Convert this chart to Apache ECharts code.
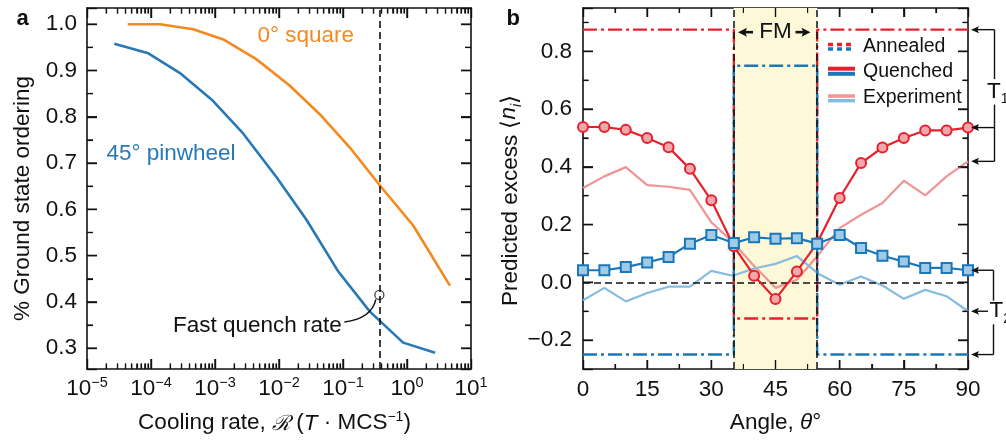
<!DOCTYPE html>
<html>
<head>
<meta charset="utf-8">
<script src="https://cdn.jsdelivr.net/npm/echarts@6/dist/echarts.min.js"></script>
<style>
  html, body { margin: 0; padding: 0; background: #fff; }
  #wrap { position: relative; width: 1006px; height: 441px; }
  #chart, #notes { position: absolute; left: 0; top: 0; width: 1006px; height: 441px; }
  #notes { pointer-events: none; }
</style>
</head>
<body>
<div id="wrap">
  <div id="chart"></div>
  <div id="notes"></div>
</div>
<script>
// ---------- panel a: ground-state ordering vs cooling rate ----------
const squareRate    = [4.33e-5, 1.38e-4, 4.57e-4, 1.35e-3, 4.47e-3, 1.48e-2, 4.37e-2, 0.129, 0.38, 1.25, 4.68];
const squareOrder   = [1.000, 1.000, 0.989, 0.967, 0.924, 0.867, 0.805, 0.733, 0.651, 0.565, 0.435];
const pinwheelRate  = [2.67e-5, 9.1e-5, 2.8e-4, 8.9e-4, 2.75e-3, 9.1e-3, 2.7e-2, 8.5e-2, 0.263, 0.87, 2.75];
const pinwheelOrder = [0.958, 0.937, 0.895, 0.837, 0.764, 0.670, 0.577, 0.465, 0.379, 0.312, 0.290];
const fastQuenchRate = 0.37;
const fastQuenchMark = 0.415;
const rateRange  = [1e-5, 10];
const orderRange = [0.255, 1.035];

// ---------- panel b: predicted excess vs angle ----------
const angles       = [0, 5, 10, 15, 20, 25, 30, 35.26, 40, 45, 50, 54.74, 60, 65, 70, 75, 80, 85, 90];
const quenchedRed  = [0.538, 0.538, 0.528, 0.500, 0.468, 0.393, 0.284, 0.125, 0.023, -0.058, 0.038, 0.136, 0.292, 0.413, 0.467, 0.500, 0.526, 0.526, 0.536];
const quenchedBlue = [0.042, 0.042, 0.053, 0.069, 0.088, 0.134, 0.164, 0.136, 0.156, 0.151, 0.153, 0.134, 0.164, 0.119, 0.092, 0.072, 0.050, 0.050, 0.042];
const expAngles    = [0, 5, 10, 15, 20, 25, 30, 35, 40, 45, 50, 55, 60, 65, 70, 75, 80, 85, 90];
const expRed       = [0.327, 0.367, 0.399, 0.337, 0.331, 0.320, 0.208, 0.140, 0.057, -0.019, 0.009, 0.095, 0.188, 0.234, 0.275, 0.352, 0.301, 0.367, 0.419];
const expBlue      = [-0.062, -0.019, -0.066, -0.037, -0.015, -0.015, 0.040, 0.023, 0.048, 0.064, 0.091, 0.030, -0.008, 0.020, -0.011, -0.057, -0.026, -0.048, -0.100];
const fmEdges      = [35.26, 54.74];
const annealedRed  = [0.875, -0.125];  // outside / inside the FM window
const annealedBlue = [-0.25, 0.75];
const angleRange   = [0, 90];
const angleStep    = 15;
const excessRange  = [-0.3, 0.95];

// ---------- styling ----------
const FONT = "'Liberation Sans', Arial, Helvetica, sans-serif";
const INK = '#111';
const FS = 22.5;
const C = {
  orange: '#f5891f', pin: '#2679b6',
  red: '#e5222b', redFill: '#f4a6ad', redExp: '#f09495',
  blue: '#1a77ba', blueFill: '#9fcbe7', blueExp: '#86bce0',
  band: '#fdf8d8'
};

const minus = v => (v < 0 ? '\u2212' : '') + Math.abs(v).toFixed(1);

// one frame side: line + inside major/minor ticks, labels only where asked
function ax(o) {
  const a = {
    gridIndex: o.grid, type: o.type || 'value', position: o.pos,
    min: o.range[0], max: o.range[1],
    axisLine: { show: true, onZero: false, lineStyle: { color: INK, width: 1.6 } },
    axisTick: { show: true, inside: true, length: o.len, lineStyle: { color: INK, width: 1.4 } },
    minorTick: { show: true, splitNumber: o.minorSplit, length: o.minorLen, lineStyle: { color: INK, width: 1.2 } },
    axisLabel: { show: false },
    splitLine: { show: false },
    minorSplitLine: { show: false }
  };
  if (o.type === 'log') a.logBase = 10;
  if (o.interval) a.interval = o.interval;
  if (o.splitNumber) a.splitNumber = o.splitNumber;
  if (o.labels) {
    a.axisLabel = { show: true, formatter: o.fmt, margin: o.margin, showMinLabel: o.edgeLabels, showMaxLabel: o.edgeLabels,
      color: INK, fontFamily: FONT, fontSize: FS };
    if (o.rich) a.axisLabel.rich = o.rich;
  }
  if (o.name) {
    Object.assign(a, { name: o.name, nameLocation: 'middle', nameGap: o.nameGap, nameRotate: o.nameRotate || 0,
      nameTextStyle: Object.assign({ color: INK, fontFamily: FONT, fontSize: FS }, o.nameStyle || {}) });
  }
  return a;
}

const supRich = {
  b: { fontFamily: FONT, fontSize: FS, color: INK, lineHeight: 25, verticalAlign: 'bottom' },
  s: { fontFamily: FONT, fontSize: 14.5, color: INK, lineHeight: 14, verticalAlign: 'top' }
};
const decadeFmt = v => {
  const e = Math.round(Math.log10(v));
  return '{b|10}{s|' + (e < 0 ? '\u2212' : '') + Math.abs(e) + '}';
};

const xA = { grid: 0, type: 'log', range: rateRange, len: 10, minorSplit: 9, minorLen: 5.5 };
const yA = { grid: 0, range: orderRange, splitNumber: 8, len: 10, minorSplit: 2, minorLen: 6 };
const xB = { grid: 1, range: angleRange, interval: angleStep, len: 9, minorSplit: 2, minorLen: 5 };
const yB = { grid: 1, range: excessRange, splitNumber: 6, len: 10, minorSplit: 2, minorLen: 5.5 };

const xAxes = [
  ax(Object.assign({}, xA, { pos: 'bottom', labels: true, fmt: decadeFmt, margin: 6, rich: supRich, edgeLabels: true,
    name: 'Cooling rate, {c|\u211B} ({i|T} \u00B7 MCS{s|\u22121})', nameGap: 41,
    nameStyle: { padding: [0, 9, 0, 0], rich: {
      c: { fontFamily: "'DejaVu Serif', serif", fontStyle: 'italic', fontSize: 21, color: INK, lineHeight: 25, verticalAlign: 'bottom' },
      i: { fontFamily: FONT, fontStyle: 'italic', fontSize: FS, color: INK, lineHeight: 25, verticalAlign: 'bottom' },
      s: { fontFamily: FONT, fontSize: 14, color: INK, lineHeight: 14, verticalAlign: 'top' }
    } } })),
  ax(Object.assign({}, xA, { pos: 'top' })),
  ax(Object.assign({}, xB, { pos: 'bottom', labels: true, fmt: v => String(v), margin: 9, edgeLabels: true,
    name: 'Angle, {i|\u03B8}\u00B0', nameGap: 42,
    nameStyle: { rich: { i: { fontFamily: FONT, fontStyle: 'italic', fontSize: FS, color: INK } } } })),
  ax(Object.assign({}, xB, { pos: 'top' }))
];

const yAxes = [
  ax(Object.assign({}, yA, { pos: 'left', labels: true, fmt: v => v.toFixed(1), margin: 10, edgeLabels: false,
    name: '% Ground state ordering', nameGap: 53, nameRotate: 90, nameStyle: { padding: [0, 20, 0, 0] } })),
  ax(Object.assign({}, yA, { pos: 'right' })),
  ax(Object.assign({}, yB, { pos: 'left', labels: true, fmt: minus, margin: 11, edgeLabels: false,
    name: 'Predicted excess \u27E8{i|n}{s|i}\u27E9', nameGap: 55, nameRotate: 90,
    nameStyle: { padding: [0, 24, 0, 0], rich: {
      i: { fontFamily: FONT, fontStyle: 'italic', fontSize: FS, color: INK, lineHeight: 26, verticalAlign: 'top' },
      s: { fontFamily: FONT, fontStyle: 'italic', fontSize: 14, color: INK, lineHeight: 26, verticalAlign: 'bottom' }
    } } })),
  ax(Object.assign({}, yB, { pos: 'right' }))
];

const zip = (xs, ys) => xs.map((x, i) => [x, ys[i]]);
const step = lv => [[angleRange[0], lv[0]], [fmEdges[0], lv[0]], [fmEdges[0], lv[1]], [fmEdges[1], lv[1]], [fmEdges[1], lv[0]], [angleRange[1], lv[0]]];
const DASHDOT = [14, 4, 3, 4];
const plain = { symbol: 'none', silent: true, emphasis: { disabled: true } };
const A = { xAxisIndex: 0, yAxisIndex: 0 };
const B = { xAxisIndex: 2, yAxisIndex: 2 };

const series = [
  // 0: square ice
  Object.assign({ type: 'line', data: zip(squareRate, squareOrder), z: 3,
    lineStyle: { color: C.orange, width: 2.6 } }, A, plain),
  // 1: pinwheel ice
  Object.assign({ type: 'line', data: zip(pinwheelRate, pinwheelOrder), z: 3,
    lineStyle: { color: C.pin, width: 2.6 } }, A, plain),
  // 2: fast-quench marker with the dashed rate line
  Object.assign({ type: 'scatter', data: [[fastQuenchRate, fastQuenchMark]], z: 4, silent: true,
    symbol: 'circle', symbolSize: 9,
    itemStyle: { color: 'rgba(255,255,255,0)', borderColor: INK, borderWidth: 1.3 },
    markLine: { silent: true, symbol: ['none', 'none'], label: { show: false },
      lineStyle: { color: INK, width: 1.6, type: [7, 4] }, data: [{ xAxis: fastQuenchRate }] } }, A),
  // 3: FM window, zero line and window edges
  Object.assign({ type: 'line', data: [], z: 1, silent: true,
    markArea: { silent: true, itemStyle: { color: C.band }, data: [[{ xAxis: fmEdges[0] }, { xAxis: fmEdges[1] }]] },
    markLine: { silent: true, symbol: ['none', 'none'], label: { show: false },
      lineStyle: { color: INK, width: 1.5, type: [7, 4] },
      data: [{ yAxis: 0 }, { xAxis: fmEdges[0] }, { xAxis: fmEdges[1] }] } }, B),
  // 4, 5: annealed predictions
  Object.assign({ type: 'line', data: step(annealedRed), z: 3,
    lineStyle: { color: C.red, width: 2.4, type: DASHDOT } }, B, plain),
  Object.assign({ type: 'line', data: step(annealedBlue), z: 3,
    lineStyle: { color: C.blue, width: 2.4, type: DASHDOT } }, B, plain),
  // 6, 7: experiment
  Object.assign({ type: 'line', data: zip(expAngles, expRed), z: 2,
    lineStyle: { color: C.redExp, width: 2.2 } }, B, plain),
  Object.assign({ type: 'line', data: zip(expAngles, expBlue), z: 2,
    lineStyle: { color: C.blueExp, width: 2.2 } }, B, plain),
  // 8, 9: quenched predictions
  Object.assign({ type: 'line', data: zip(angles, quenchedRed), z: 5, silent: true,
    symbol: 'circle', symbolSize: 10, showAllSymbol: true,
    lineStyle: { color: C.red, width: 2.2 },
    itemStyle: { color: C.redFill, borderColor: C.red, borderWidth: 2 } }, B),
  Object.assign({ type: 'line', data: zip(angles, quenchedBlue), z: 6, silent: true,
    symbol: 'rect', symbolSize: 10, showAllSymbol: true,
    lineStyle: { color: C.blue, width: 2.2 },
    itemStyle: { color: C.blueFill, borderColor: C.blue, borderWidth: 2 } }, B)
];

const chart = echarts.init(document.getElementById('chart'), null, { renderer: 'canvas' });
chart.setOption({
  animation: false,
  backgroundColor: '#fff',
  grid: [
    { left: 87, top: 8, width: 384, height: 361, outerBoundsMode: 'none' },
    { left: 583, top: 8, width: 385, height: 361, outerBoundsMode: 'none' }
  ],
  xAxis: xAxes,
  yAxis: yAxes,
  series: series
});

// ---------- annotation layer (placed through the plot's own scales) ----------
const px = (si, pt) => chart.convertToPixel({ seriesIndex: si }, pt);
const g = [];
const txt = (text, x, y, o) => g.push({ type: 'text', z: 20, silent: true,
  style: Object.assign({ text, x, y, fill: INK, fontFamily: FONT, fontSize: FS, align: 'left', verticalAlign: 'middle' }, o || {}) });
const seg = (x1, y1, x2, y2, o) => g.push({ type: 'line', z: 20, silent: true,
  shape: { x1, y1, x2, y2 }, style: Object.assign({ stroke: INK, lineWidth: 1.4 }, o || {}) });
// horizontal arrow head with its tip at (tipX, y); dir = -1 points left, +1 points right
const head = (tipX, y, dir, L, H) => g.push({ type: 'polygon', z: 20, silent: true,
  shape: { points: [[tipX, y], [tipX - dir * L, y - H], [tipX - dir * L * 0.8, y], [tipX - dir * L, y + H]] },
  style: { fill: INK } });

// inside ticks on all four sides of each frame
function frameTicks(si, xr, yr, xMaj, xMin, yMaj, yMin, len) {
  const l = px(si, [xr[0], yr[0]])[0], r = px(si, [xr[1], yr[0]])[0];
  const b = px(si, [xr[0], yr[0]])[1], t = px(si, [xr[0], yr[1]])[1];
  const xt = (vals, n, w) => vals.forEach(v => {
    const x = px(si, [v, yr[0]])[0];
    seg(x, b, x, b - n, { lineWidth: w }); seg(x, t, x, t + n, { lineWidth: w });
  });
  const yt = (vals, n, w) => vals.forEach(v => {
    const y = px(si, [xr[0], v])[1];
    seg(l, y, l + n, y, { lineWidth: w }); seg(r, y, r - n, y, { lineWidth: w });
  });
  xt(xMaj, len[0], 1.4); xt(xMin, len[1], 1.2);
  yt(yMaj, len[2], 1.4); yt(yMin, len[3], 1.2);
}
const rateMaj = [], rateMin = [];
for (let e = -5; e <= 1; e++) rateMaj.push(Math.pow(10, e));
for (let e = -5; e <= 0; e++) for (let k = 2; k <= 9; k++) rateMin.push(k * Math.pow(10, e));
const orderMaj = [], orderMin = [];
for (let i = 3; i <= 10; i++) orderMaj.push(i / 10);
for (let i = 3; i <= 9; i++) orderMin.push(i / 10 + 0.05);
const angMaj = [], angMin = [];
for (let a = 15; a < 90; a += angleStep) angMaj.push(a);
for (let a = angleStep / 2; a < 90; a += angleStep) angMin.push(a);
const excMaj = [], excMin = [];
for (let i = -1; i <= 4; i++) { excMaj.push(i * 0.2); excMin.push(i * 0.2 + 0.1); }
frameTicks(0, rateRange, orderRange, rateMaj.slice(1, -1), rateMin, orderMaj, orderMin, [10, 5.5, 10, 6]);
frameTicks(4, angleRange, excessRange, angMaj, angMin, excMaj, excMin, [9, 5, 10, 5.5]);

// panel letters
txt('a', 16.5, 19, { fontWeight: 'bold', fontSize: 22 });
txt('b', 506.5, 19, { fontWeight: 'bold', fontSize: 22 });

// curve labels
txt('0\u00B0 square', 257.5, 35.5, { fill: C.orange });
txt('45\u00B0 pinwheel', 106.5, 154, { fill: C.pin });

// fast quench call-out
const q = px(2, [fastQuenchRate, fastQuenchMark]);
txt('Fast quench rate', q[0] - 37.5, q[1] + 31, { align: 'right' });
g.push({ type: 'bezierCurve', z: 20, silent: true,
  shape: { x1: q[0] - 35, y1: q[1] + 27, cpx1: q[0] - 8, cpy1: q[1] + 24, x2: q[0] - 3.5, y2: q[1] + 4.5 },
  style: { stroke: INK, lineWidth: 1.5, fill: null } });

// FM window label
const e0 = px(4, [fmEdges[0], 0]), e1 = px(4, [fmEdges[1], 0]);
const fmTop = px(4, [0, annealedRed[0]])[1];
const fmX = (e0[0] + e1[0]) / 2, fmY = fmTop + 2.5;
txt('FM', fmX, fmY, { align: 'center' });
seg(fmX - 37.5 + 7, fmY, fmX - 22.5, fmY, { lineWidth: 2.6 });
head(fmX - 37.5, fmY, -1, 9, 4.5);
seg(fmX + 20, fmY, fmX + 35 - 7, fmY, { lineWidth: 2.6 });
head(fmX + 35, fmY, 1, 9, 4.5);

// legend
const lx0 = 828, lx1 = 855, tx = 863;
seg(lx0, 44.5, lx1, 44.5, { stroke: C.red, lineWidth: 3.5, lineDash: [5, 4] });
seg(lx0, 49, lx1, 49, { stroke: C.blue, lineWidth: 3.5, lineDash: [5, 4] });
txt('Annealed', tx, 47, { fontSize: 19.5 });
seg(lx0, 68.7, lx1, 68.7, { stroke: C.red, lineWidth: 4 });
seg(lx0, 73.8, lx1, 73.8, { stroke: C.blue, lineWidth: 4 });
txt('Quenched', tx, 72, { fontSize: 19.5 });
seg(lx0, 96, lx1, 96, { stroke: C.redExp, lineWidth: 3.5 });
seg(lx0, 100.7, lx1, 100.7, { stroke: C.blueExp, lineWidth: 3.5 });
txt('Experiment', tx, 97.5, { fontSize: 19.5 });

// T1 / T2 brackets pointing at the 90-degree values
const last = a => a[a.length - 1];
const axR = px(4, [angleRange[1], 0])[0];
const tipX = axR + 3;
const tRich = { t: { fontFamily: FONT, fontSize: FS, fill: INK }, s: { fontFamily: FONT, fontSize: 14, fill: INK, verticalAlign: 'bottom', lineHeight: 30 } };

const r1 = px(4, [90, annealedRed[0]])[1];
const r2 = px(4, [90, last(quenchedRed)])[1];
const r3 = px(4, [90, last(expRed)])[1];
const bx1 = 994.5;
const l1 = r1 + 0.47 * (r3 - r1);
seg(bx1, r1, bx1, l1 - 12.5); seg(bx1, l1 + 13, bx1, r3);
[r1, r2, r3].forEach(y => { seg(bx1, y, tipX + 6, y); head(tipX, y, -1, 8, 3.5); });
g.push({ type: 'text', z: 20, silent: true, style: { text: '{t|T}{s|1}', x: 987, y: l1, verticalAlign: 'middle', rich: tRich } });

const b1 = px(4, [90, last(quenchedBlue)])[1];
const b2 = px(4, [90, last(expBlue)])[1];
const b3 = px(4, [90, annealedBlue[0]])[1];
const bx2 = 993.5;
seg(bx2, b1, bx2, b2 - 10.5); seg(bx2, b2 + 13, bx2, b3);
[b1, b3].forEach(y => { seg(bx2, y, tipX + 6, y); head(tipX, y, -1, 8, 3.5); });
seg(988, b2, tipX + 6, b2); head(tipX, b2, -1, 8, 3.5);
g.push({ type: 'text', z: 20, silent: true, style: { text: '{t|T}{s|2}', x: 989.5, y: b2, verticalAlign: 'middle', rich: tRich } });

// the call-outs live on their own transparent layer above the plot
const notes = echarts.init(document.getElementById('notes'), null, { renderer: 'canvas' });
notes.setOption({ animation: false, backgroundColor: 'transparent', graphic: g });
</script>
</body>
</html>
